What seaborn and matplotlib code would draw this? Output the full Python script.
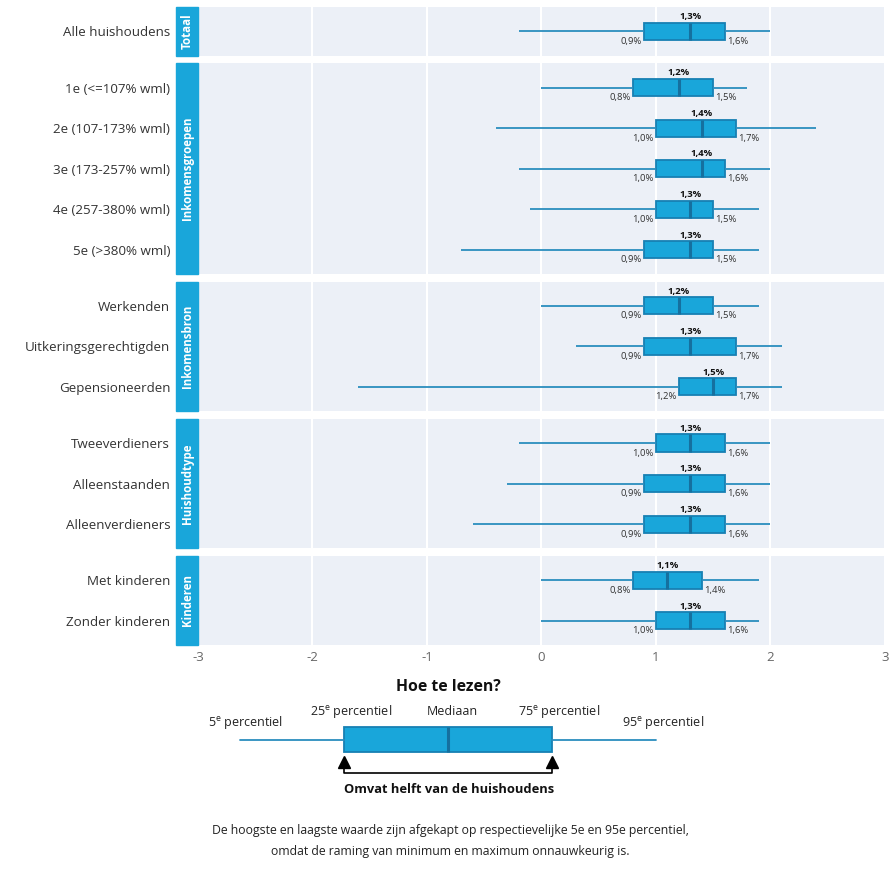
import pandas as pd
import numpy as np
import matplotlib
matplotlib.use("Agg")
import matplotlib.pyplot as plt
import seaborn as sns
from matplotlib.patches import Rectangle

# --- data ---
groups = ["Totaal", "Inkomensgroepen", "Inkomensbron", "Huishoudtype", "Kinderen"]
labels = [
    ["Alle huishoudens"],
    ["1e (<=107% wml)", "2e (107-173% wml)", "3e (173-257% wml)",
     "4e (257-380% wml)", "5e (>380% wml)"],
    ["Werkenden", "Uitkeringsgerechtigden", "Gepensioneerden"],
    ["Tweeverdieners", "Alleenstaanden", "Alleenverdieners"],
    ["Met kinderen", "Zonder kinderen"],
]
p5 = [-0.2, 0.0, -0.4, -0.2, -0.1, -0.7, 0.0, 0.3, -1.6, -0.2, -0.3, -0.6, 0.0, 0.0]
p25 = [0.9, 0.8, 1.0, 1.0, 1.0, 0.9, 0.9, 0.9, 1.2, 1.0, 0.9, 0.9, 0.8, 1.0]
med = [1.3, 1.2, 1.4, 1.4, 1.3, 1.3, 1.2, 1.3, 1.5, 1.3, 1.3, 1.3, 1.1, 1.3]
p75 = [1.6, 1.5, 1.7, 1.6, 1.5, 1.5, 1.5, 1.7, 1.7, 1.6, 1.6, 1.6, 1.4, 1.6]
p95 = [2.0, 1.8, 2.4, 2.0, 1.9, 1.9, 1.9, 2.1, 2.1, 2.0, 2.0, 2.0, 1.9, 1.9]

# schematic for the "Hoe te lezen?" legend
legend_stats = [0, 25, 50, 75, 100]

BOX = "#19A6DA"
EDGE = "#1780B3"
MEDC = "#15709F"
WHISK = "#2B8EBE"
BG = "#ECF0F7"
TXT = "#333333"

sns.set_theme(style="white")
plt.rcParams["font.family"] = ["Open Sans", "DejaVu Sans"]
plt.rcParams["mathtext.fontset"] = "custom"
plt.rcParams["mathtext.rm"] = "Open Sans"
plt.rcParams["axes.unicode_minus"] = False

# long form: five summary values per row, so whis=(0, 100) gives exact boxes
flat_labels = [l for g in labels for l in g]
flat_groups = [groups[i] for i, g in enumerate(labels) for _ in g]
rows = []
for i, lab in enumerate(flat_labels):
    for v in (p5[i], p25[i], med[i], p75[i], p95[i]):
        rows.append({"groep": flat_groups[i], "label": lab, "waarde": v})
df = pd.DataFrame(rows)


def pct(v):
    return f"{v:.1f}".replace(".", ",") + "%"


fig = plt.figure(figsize=(8.92, 8.92), dpi=100)
gs = fig.add_gridspec(len(groups), 1, height_ratios=[len(g) + 0.2 for g in labels],
                      left=0.222, right=0.992, top=0.992, bottom=1 - 645 / 892,
                      hspace=0.062)

start = 0
for gi, grp in enumerate(groups):
    ax = fig.add_subplot(gs[gi])
    sub = df[df["groep"] == grp]
    n = len(labels[gi])
    sns.boxplot(data=sub, x="waarde", y="label", order=labels[gi], ax=ax,
                whis=(0, 100), width=0.42, color=BOX, saturation=1,
                linecolor=EDGE, linewidth=1.3, showcaps=False,
                whiskerprops=dict(color=WHISK, linewidth=1.3),
                medianprops=dict(color=MEDC, linewidth=2.2))
    ax.set_facecolor(BG)
    ax.set_xlim(-3, 3)
    ax.set_ylim(n - 0.5 + 0.1, -0.5 - 0.1)
    ax.set_xticks(range(-3, 4))
    ax.grid(axis="x", color="white", linewidth=1.5)
    ax.set_axisbelow(True)
    for s in ax.spines.values():
        s.set_visible(False)
    ax.set_xlabel("")
    ax.set_ylabel("")
    ax.tick_params(axis="y", length=0, pad=20, labelsize=9.6, labelcolor=TXT)
    if gi < len(groups) - 1:
        ax.tick_params(axis="x", labelbottom=False, length=0)
    else:
        ax.tick_params(axis="x", length=0, labelsize=9.5, labelcolor="#666666", pad=4)

    # value labels
    for j in range(n):
        k = start + j
        ax.text(med[k], j - 0.25, pct(med[k]), ha="center", va="bottom",
                fontsize=6.8, fontweight="bold", color="#111111")
        ax.text(p25[k] - 0.02, j + 0.25, pct(p25[k]), ha="right", va="center",
                fontsize=6.8, color=TXT)
        ax.text(p75[k] + 0.02, j + 0.25, pct(p75[k]), ha="left", va="center",
                fontsize=6.8, color=TXT)
    start += n

    # facet strip on the left
    ax.add_patch(Rectangle((-0.032, 0), 0.032, 1, transform=ax.transAxes,
                           clip_on=False, color=BOX, zorder=5))
    ax.text(-0.016, 0.5, grp, transform=ax.transAxes, rotation=90, ha="center",
            va="center", color="white", fontsize=8.3, fontweight="bold", zorder=6)

# --- "Hoe te lezen?" legend ---
lax = fig.add_axes([0, 0, 1, 1 - 662 / 892])
px = 416 / 100.0
lax.set_xlim(-240 / px, (892 - 240) / px)
lax.set_ylim(892, 662)
lax.axis("off")
lax.bxp([dict(whislo=legend_stats[0], q1=legend_stats[1], med=legend_stats[2],
              q3=legend_stats[3], whishi=legend_stats[4])],
        positions=[740], widths=25, vert=False, showcaps=False, showfliers=False,
        patch_artist=True, manage_ticks=False,
        boxprops=dict(facecolor=BOX, edgecolor=EDGE, linewidth=1.3),
        whiskerprops=dict(color=WHISK, linewidth=1.3),
        medianprops=dict(color=MEDC, linewidth=2.2))
lax.plot([legend_stats[1], legend_stats[1], legend_stats[3], legend_stats[3]],
         [760, 773, 773, 760], color="black", linewidth=1.2)
lax.plot([legend_stats[1], legend_stats[3]], [762, 762], linestyle="none",
         marker="^", markersize=8, color="black")

lax.text(448 / px - 240 / px, 687, "Hoe te lezen?", ha="center", va="center",
         fontsize=11.3, fontweight="bold", color="#111111")
lbl = dict(va="center", fontsize=9, color="#222222")
lax.text(351 / px - 240 / px, 712, r"25$^{\mathrm{e}}$ percentiel", ha="center", **lbl)
lax.text(452 / px - 240 / px, 712, "Mediaan", ha="center", **lbl)
lax.text(559 / px - 240 / px, 712, r"75$^{\mathrm{e}}$ percentiel", ha="center", **lbl)
lax.text(246 / px - 240 / px, 723, r"5$^{\mathrm{e}}$ percentiel", ha="center", **lbl)
lax.text(663 / px - 240 / px, 723, r"95$^{\mathrm{e}}$ percentiel", ha="center", **lbl)
lax.text(449 / px - 240 / px, 790, "Omvat helft van de huishoudens", ha="center",
         va="center", fontsize=9.3, fontweight="bold", color="#111111")
lax.text(450 / px - 240 / px, 841,
         "De hoogste en laagste waarde zijn afgekapt op respectievelijke 5e en 95e percentiel,\n"
         "omdat de raming van minimum en maximum onnauwkeurig is.",
         ha="center", va="center", fontsize=8.8, color="#222222", linespacing=1.75)

fig.savefig("out.png", dpi=100)
